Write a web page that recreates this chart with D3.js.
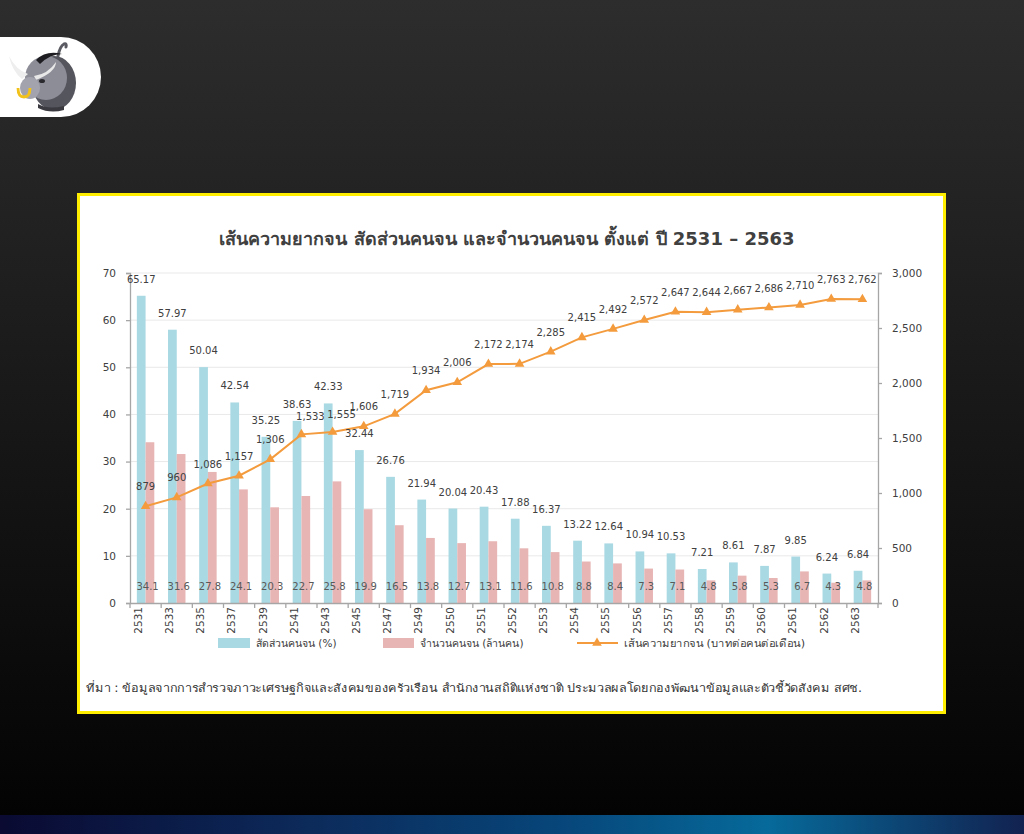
<!DOCTYPE html>
<html><head><meta charset="utf-8">
<script src="https://cdn.jsdelivr.net/npm/d3@7"></script>
<style>html,body{margin:0;padding:0;background:#1a1a1a;}svg{display:block;}</style>
</head><body>
<svg id="c" width="1024" height="834"></svg>
<script>
const years = ["2531","2533","2535","2537","2539","2541","2543","2545","2547","2549","2550","2551","2552","2553","2554","2555","2556","2557","2558","2559","2560","2561","2562","2563"];
const poorPct = [65.17,57.97,50.04,42.54,35.25,38.63,42.33,32.44,26.76,21.94,20.04,20.43,17.88,16.37,13.22,12.64,10.94,10.53,7.21,8.61,7.87,9.85,6.24,6.84];
const poorCount = [34.1,31.6,27.8,24.1,20.3,22.7,25.8,19.9,16.5,13.8,12.7,13.1,11.6,10.8,8.8,8.4,7.3,7.1,4.8,5.8,5.3,6.7,4.3,4.8];
const povertyLine = [879,960,1086,1157,1306,1533,1555,1606,1719,1934,2006,2172,2174,2285,2415,2492,2572,2647,2644,2667,2686,2710,2763,2762];
const leftTicks = [0,10,20,30,40,50,60,70];
const rightTicks = [0,500,1000,1500,2000,2500,3000];
const title = "เส้นความยากจน สัดส่วนคนจน และจำนวนคนจน ตั้งแต่ ปี 2531 – 2563";
const legendLabels = ["สัดส่วนคนจน (%)","จำนวนคนจน (ล้านคน)","เส้นความยากจน (บาทต่อคนต่อเดือน)"];
const sourceText = "ที่มา : ข้อมูลจากการสำรวจภาวะเศรษฐกิจและสังคมของครัวเรือน สำนักงานสถิติแห่งชาติ ประมวลผลโดยกองพัฒนาข้อมูลและตัวชี้วัดสังคม สศช.";

const FONT = "Tahoma, 'DejaVu Sans', 'Noto Sans', sans-serif";
const svg = d3.select("#c");
const defs = svg.append("defs");
const bg = defs.append("linearGradient").attr("id","bg").attr("x1",0).attr("y1",0).attr("x2",0).attr("y2",1);
bg.append("stop").attr("offset","0%").attr("stop-color","#2d2d2d");
bg.append("stop").attr("offset","100%").attr("stop-color","#030303");
const bar = defs.append("linearGradient").attr("id","bb").attr("x1",0).attr("y1",0).attr("x2",1).attr("y2",0);
[["0%","#0a0a32"],["30%","#0c2a5a"],["55%","#07467a"],["75%","#066a9a"],["100%","#122250"]].forEach(s=>bar.append("stop").attr("offset",s[0]).attr("stop-color",s[1]));

svg.append("rect").attr("width",1024).attr("height",815).attr("fill","url(#bg)");
svg.append("rect").attr("y",815).attr("width",1024).attr("height",19).attr("fill","url(#bb)");

// logo
const logo = svg.append("g");
logo.append("path").attr("d","M0,37 H61 A40,40 0 0 1 61,117 H0 Z").attr("fill","#ffffff");
logo.append("path").attr("d","M58,56 q2,-10 6,-12 q3,-1 2,3").attr("fill","none").attr("stroke","#5a5a62").attr("stroke-width",3).attr("stroke-linecap","round");
logo.append("ellipse").attr("cx",54).attr("cy",83).attr("rx",22).attr("ry",27).attr("fill","#55555e");
logo.append("ellipse").attr("cx",46).attr("cy",78).attr("rx",21).attr("ry",22).attr("fill","#8d8d98");
logo.append("path").attr("d","M36,60 q10,-10 26,-6 q-12,0 -22,10 z").attr("fill","#1e1e22");
logo.append("path").attr("d","M34,76 q14,-2 22,-14 q0,10 -20,18 z").attr("fill","#e8e8e8");
logo.append("path").attr("d","M28,74 q-12,-4 -19,-18 q3,15 13,23 z").attr("fill","#eeeeee");
logo.append("ellipse").attr("cx",30).attr("cy",88).attr("rx",10).attr("ry",11).attr("fill","#a3a3ae");
logo.append("ellipse").attr("cx",42).attr("cy",81).attr("rx",3).attr("ry",2).attr("fill","#2a2a2e");
logo.append("path").attr("d","M18,88 q0,9 6,9 q6,0 6,-9").attr("fill","none").attr("stroke","#f2c21a").attr("stroke-width",2.8);
logo.append("path").attr("d","M38,104 q10,6 26,2 l0,4 q-14,4 -26,-2 z").attr("fill","#3a3a40");

// frame
svg.append("rect").attr("x",78.5).attr("y",194.5).attr("width",866).attr("height",518).attr("fill","#ffffff").attr("stroke","#ffee00").attr("stroke-width",3);

svg.append("text").attr("x",507).attr("y",245).attr("text-anchor","middle").attr("font-family",FONT).attr("font-size",18).attr("font-weight","bold").attr("fill","#404040").text(title);

const x = d3.scaleBand().domain(years).range([130,878]).padding(0);
const sub = d3.scaleBand().domain(["pct","cnt"]).range([x.bandwidth()*0.22, x.bandwidth()*0.78]).padding(0);
const yL = d3.scaleLinear().domain([0,70]).range([603,273]);
const yR = d3.scaleLinear().domain([0,3000]).range([603,273]);

// grid
svg.append("g").selectAll("line").data(leftTicks.slice(1)).join("line")
  .attr("x1",130).attr("x2",878).attr("y1",d=>yL(d)).attr("y2",d=>yL(d)).attr("stroke","#e9e9e9").attr("stroke-width",1);

// bars
const data = years.map((y,i)=>({y, p:poorPct[i], c:poorCount[i], l:povertyLine[i]}));
svg.append("g").selectAll("rect").data(data).join("rect")
  .attr("x",d=>x(d.y)+sub("pct")).attr("width",sub.bandwidth()).attr("y",d=>yL(d.p)).attr("height",d=>yL(0)-yL(d.p)).attr("fill","#a9d9e3");
svg.append("g").selectAll("rect").data(data).join("rect")
  .attr("x",d=>x(d.y)+sub("cnt")).attr("width",sub.bandwidth()).attr("y",d=>yL(d.c)).attr("height",d=>yL(0)-yL(d.c)).attr("fill","#e8b5b5");

// axes
const axL = svg.append("g").attr("transform","translate(130,0)").call(d3.axisLeft(yL).tickValues(leftTicks).tickSize(4).tickPadding(10));
const axR = svg.append("g").attr("transform","translate(878,0)").call(d3.axisRight(yR).tickValues(rightTicks).tickSize(4).tickPadding(10).tickFormat(d3.format(",")));
const axB = svg.append("g").attr("transform","translate(0,603)").call(d3.axisBottom(x).tickSize(0).tickPadding(5));
[axL,axR,axB].forEach(a=>{a.selectAll("path,line").attr("stroke","#a6a6a6").attr("stroke-width",1.3);
  a.selectAll("text").attr("font-family",FONT).attr("font-size",10.5).attr("fill","#404040");});
axB.selectAll(".tick text").attr("transform","rotate(-90)").attr("text-anchor","end").attr("dx","-4").attr("dy","-0.35em").attr("x",0).attr("y",0);
svg.append("g").selectAll("line").data(years.concat(["end"])).join("line")
  .attr("x1",(d,i)=>130+i*x.bandwidth()).attr("x2",(d,i)=>130+i*x.bandwidth()).attr("y1",603).attr("y2",608).attr("stroke","#a6a6a6").attr("stroke-width",1.3);

// line
const line = d3.line().x(d=>x(d.y)+x.bandwidth()/2).y(d=>yR(d.l));
svg.append("path").datum(data).attr("d",line).attr("fill","none").attr("stroke","#f39b3d").attr("stroke-width",2);
svg.append("g").selectAll("path").data(data).join("path")
  .attr("transform",d=>`translate(${x(d.y)+x.bandwidth()/2},${yR(d.l)})`)
  .attr("d",d3.symbol().type(d3.symbolTriangle).size(40)).attr("fill","#f39b3d");

// labels
const shifted = new Set([5,6]);
const lab = svg.append("g").attr("font-family",FONT).attr("font-size",10).attr("fill","#404040").attr("text-anchor","middle");
lab.selectAll(".pl").data(data).join("text").attr("x",d=>x(d.y)+sub("pct")+sub.bandwidth()/2).attr("y",d=>yL(d.p)-13).text(d=>d3.format(".2f")(d.p));
lab.selectAll(".cl").data(data).join("text").attr("x",d=>x(d.y)+sub("cnt")+2).attr("y",590).attr("fill","#595959").text(d=>d.c.toFixed(1));
lab.selectAll(".ll").data(data).join("text")
  .attr("x",(d,i)=>x(d.y)+x.bandwidth()/2+(shifted.has(i)?9:0))
  .attr("y",(d,i)=>yR(d.l)-(shifted.has(i)?14:16)).text(d=>d3.format(",")(d.l));

// legend
const lg = svg.append("g").attr("font-family",FONT).attr("font-size",10.5).attr("fill","#404040");
lg.append("rect").attr("x",218).attr("y",638).attr("width",32).attr("height",10).attr("fill","#a9d9e3");
lg.append("text").attr("x",256).attr("y",647).text(legendLabels[0]);
lg.append("rect").attr("x",383).attr("y",638).attr("width",31).attr("height",10).attr("fill","#e8b5b5");
lg.append("text").attr("x",420).attr("y",647).text(legendLabels[1]);
lg.append("line").attr("x1",577).attr("x2",618).attr("y1",643).attr("y2",643).attr("stroke","#f39b3d").attr("stroke-width",2);
lg.append("path").attr("transform","translate(597,643)").attr("d",d3.symbol().type(d3.symbolTriangle).size(40)).attr("fill","#f39b3d");
lg.append("text").attr("x",624).attr("y",647).attr("textLength",181).attr("lengthAdjust","spacingAndGlyphs").text(legendLabels[2]);

svg.append("text").attr("x",86).attr("y",692).attr("font-family",FONT).attr("font-size",11.5).attr("fill","#333")
  .attr("textLength",776).attr("lengthAdjust","spacingAndGlyphs").text(sourceText);
</script>
</body></html>
